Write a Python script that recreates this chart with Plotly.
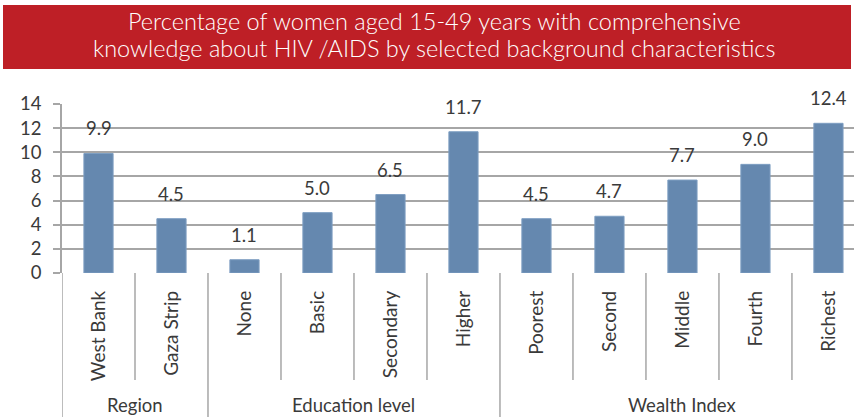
import plotly.graph_objects as go

# Survey results: % of women 15-49 with comprehensive HIV/AIDS knowledge
categories = ["West Bank", "Gaza Strip", "None", "Basic", "Secondary", "Higher",
              "Poorest", "Second", "Middle", "Fourth", "Richest"]
values = [9.9, 4.5, 1.1, 5.0, 6.5, 11.7, 4.5, 4.7, 7.7, 9.0, 12.4]
groups = ["Region", "Education level", "Wealth Index"]
group_sizes = [2, 4, 5]
y_ticks = [0, 2, 4, 6, 8, 10, 12, 14]

title_lines = ["Percentage of women aged 15-49 years with comprehensive",
               "knowledge about HIV /AIDS by selected background characteristics"]

W, H = 854, 417
ML, MR, MT, MB = 62, 0, 104, 144
plot_w = W - ML - MR
plot_h = H - MT - MB

GRID = "#A6A6A6"
BAR = "#6588AF"
TXT = "#3A3A3A"
FONT = "Lato, 'Open Sans', sans-serif"

fig = go.Figure()
fig.add_trace(go.Bar(
    x=categories, y=values, width=0.4,
    marker=dict(color=BAR, line=dict(color="#7E9EC2", width=1)),
    hoverinfo="x+y",
))

# value labels above bars
for c, v in zip(categories, values):
    fig.add_annotation(x=c, y=v, text=f"{v:.1f}", showarrow=False,
                       yanchor="bottom", yshift=12,
                       font=dict(size=18.5, color=TXT, family=FONT))

def py(px_from_top):
    """pixel row -> paper y coordinate"""
    return (H - MB - px_from_top) / plot_h

def px(px_from_left):
    return (px_from_left - ML) / plot_w

# category dividers under the axis
n = len(categories)
bounds = [0]
for s in group_sizes:
    bounds.append(bounds[-1] + s)
for i in range(n + 1):
    is_group = i in bounds
    fig.add_shape(type="line", xref="x", yref="paper",
                  x0=i - 0.5, x1=i - 0.5, y0=0,
                  y1=py(H + 5) if is_group else py(380),
                  line=dict(color=GRID, width=1.5), layer="above")

# group labels
for g, a, b in zip(groups, bounds[:-1], bounds[1:]):
    fig.add_annotation(x=(a + b - 1) / 2, y=py(405), xref="x", yref="paper",
                       text=g, showarrow=False, yanchor="middle",
                       font=dict(size=18.5, color=TXT, family=FONT))

# red banner title
fig.add_shape(type="rect", xref="paper", yref="paper",
              x0=px(3), x1=px(851), y0=py(69), y1=py(5),
              fillcolor="#BE1F26", line=dict(width=0), layer="above")
for line, row in zip(title_lines, [21, 48]):
    fig.add_annotation(xref="paper", yref="paper", x=px(434), y=py(row),
                       text=line, showarrow=False, yanchor="middle",
                       borderpad=0,
                       font=dict(size=23.5, color="white", family=FONT,
                                 weight=300))

fig.update_layout(
    width=W, height=H,
    margin=dict(l=ML, r=MR, t=MT, b=MB),
    paper_bgcolor="white", plot_bgcolor="white",
    showlegend=False,
    bargap=0.6,
    xaxis=dict(
        type="category", range=[-0.5, n - 0.5 - 0.15],
        tickangle=-90, showline=False, showgrid=False,
        ticks="", ticklabelstandoff=13,
        tickfont=dict(size=19, color=TXT, family=FONT),
    ),
    yaxis=dict(
        range=[0, 14], tickvals=y_ticks, showgrid=True,
        gridcolor=GRID, gridwidth=1.5,
        showline=True, linecolor=GRID, linewidth=1.5,
        ticks="outside", ticklen=7, tickcolor=GRID, tickwidth=1.5,
        ticklabelstandoff=8, zeroline=False,
        tickfont=dict(size=18.5, color=TXT, family=FONT),
    ),
)

fig.write_html("out.html")
